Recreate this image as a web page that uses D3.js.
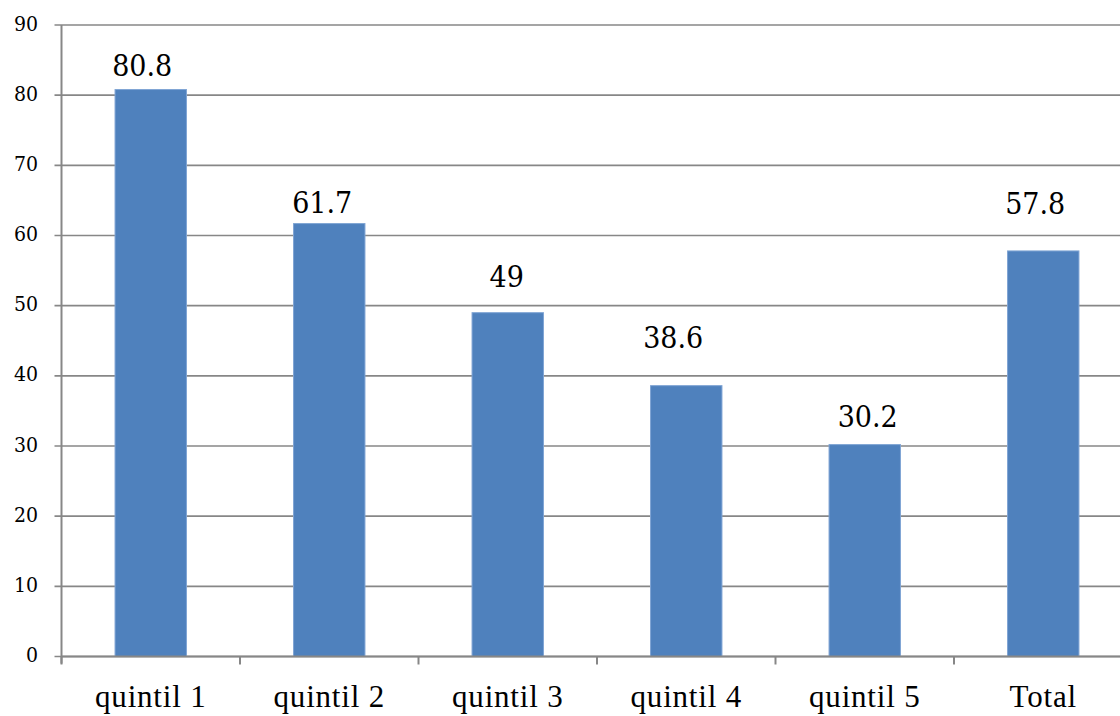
<!DOCTYPE html>
<html>
<head>
<meta charset="utf-8">
<script src="https://cdn.jsdelivr.net/npm/d3@7"></script>
<style>
  body { margin: 0; background: #fff; }
</style>
</head>
<body>
<div id="chart"></div>
<script>
// data
const categories = ["quintil 1", "quintil 2", "quintil 3", "quintil 4", "quintil 5", "Total"];
const values = [80.8, 61.7, 49, 38.6, 30.2, 57.8];
const yTicks = [0, 10, 20, 30, 40, 50, 60, 70, 80, 90];

// hand-placed label nudges (relative to bar centre / bar top)
const labelDx = [-8.5, -7, -1, -13, 3, -8];
const labelDy = [-13.5, -10.5, -25.7, -37.6, -18, -36.6];

const width = 1120, height = 716;
const margin = {top: 25, left: 61.5, bottom: 59.5};
const plotRight = 1132.5; // plot runs past the right edge
const serif = "'Liberation Serif', 'Times New Roman', Times, serif";
const numSerif = "'DejaVu Serif', serif"; // liberation digits fall back to sans here

const svg = d3.select("#chart").append("svg")
    .attr("width", width)
    .attr("height", height);

const x = d3.scaleBand()
    .domain(categories)
    .range([margin.left, plotRight])
    .paddingInner(0.6)
    .paddingOuter(0.3);

const y = d3.scaleLinear()
    .domain([0, 90])
    .range([height - margin.bottom, margin.top]);

// gridlines + tick marks on left
svg.append("g")
    .selectAll("line")
    .data(yTicks)
    .enter().append("line")
    .attr("x1", margin.left - 7)
    .attr("x2", width)
    .attr("y1", d => y(d))
    .attr("y2", d => y(d))
    .style("stroke", "#878787")
    .style("stroke-width", 1.6);

svg.append("g")
    .selectAll("text")
    .data(yTicks)
    .enter().append("text")
    .attr("x", 38)
    .attr("y", d => y(d) + 5.5)
    .attr("text-anchor", "end")
    .attr("font-family", numSerif)
    .attr("font-stretch", "condensed")
    .attr("font-size", 21)
    .text(d => d);

// bars
svg.append("g")
    .selectAll("rect")
    .data(values)
    .enter().append("rect")
    .attr("x", (d, i) => x(categories[i]))
    .attr("y", d => y(d))
    .attr("width", x.bandwidth())
    .attr("height", d => y(0) - y(d))
    .attr("fill", "#4F81BD")
    .style("stroke", "#7FA4D4")
    .style("stroke-width", 1);

// value labels
svg.append("g")
    .selectAll("text")
    .data(values)
    .enter().append("text")
    .attr("x", (d, i) => x(categories[i]) + x.bandwidth() / 2 + labelDx[i])
    .attr("y", (d, i) => y(d) + labelDy[i])
    .attr("text-anchor", "middle")
    .attr("font-family", numSerif)
    .attr("font-stretch", "condensed")
    .attr("font-size", 30)
    .text(d => d);

// axes lines
svg.append("line")
    .attr("x1", margin.left).attr("x2", margin.left)
    .attr("y1", margin.top).attr("y2", y(0) + 7)
    .style("stroke", "#878787").style("stroke-width", 2);

svg.append("line")
    .attr("x1", margin.left).attr("x2", width)
    .attr("y1", y(0)).attr("y2", y(0))
    .style("stroke", "#878787").style("stroke-width", 2);

// category ticks at band boundaries
const step = x.step();
const boundaries = d3.range(categories.length).map(i => margin.left + i * step);
svg.append("g")
    .selectAll("line")
    .data(boundaries)
    .enter().append("line")
    .attr("x1", d => d).attr("x2", d => d)
    .attr("y1", y(0)).attr("y2", y(0) + 8)
    .style("stroke", "#878787").style("stroke-width", 2);

// category labels
svg.append("g")
    .selectAll("text")
    .data(categories)
    .enter().append("text")
    .attr("x", d => x(d) + x.bandwidth() / 2)
    .attr("y", 707)
    .attr("text-anchor", "middle")
    .attr("font-family", serif)
    .attr("font-size", 31)
    .attr("letter-spacing", 0.8)
    .text(d => d);
</script>
</body>
</html>
